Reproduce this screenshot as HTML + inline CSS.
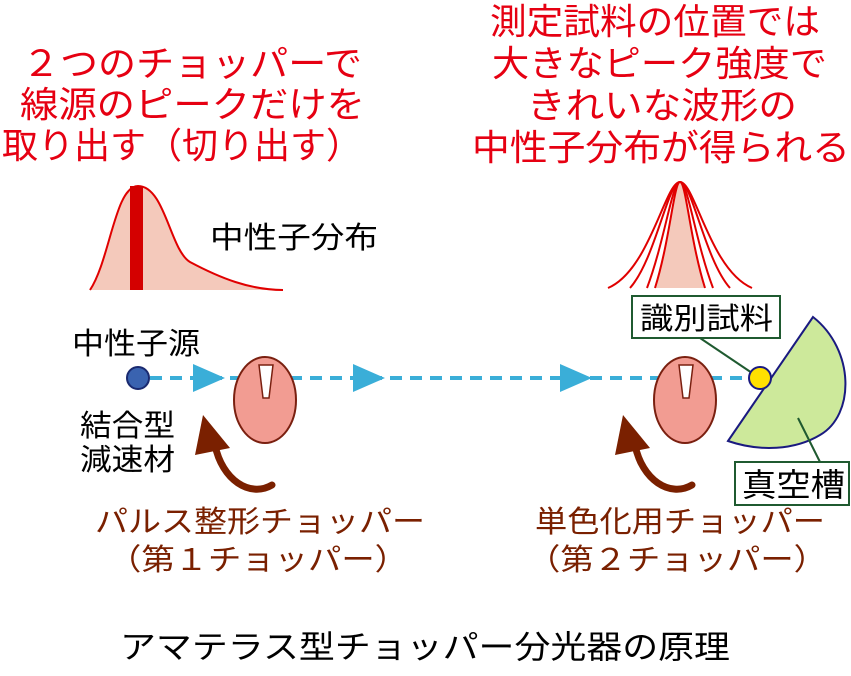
<!DOCTYPE html>
<html><head><meta charset="utf-8"><style>
body{margin:0;background:#fff}
svg text{font-family:"Liberation Sans","Noto Sans CJK JP",sans-serif}
</style></head><body>
<svg width="851" height="671" viewBox="0 0 851 671" xmlns="http://www.w3.org/2000/svg">
<g fill="#e60012" font-size="36">
<text x="22" y="76" textLength="340" lengthAdjust="spacingAndGlyphs">２つのチョッパーで</text>
<text x="20" y="117" textLength="345" lengthAdjust="spacingAndGlyphs">線源のピークだけを</text>
<text x="2" y="158" textLength="360" lengthAdjust="spacingAndGlyphs">取り出す（切り出す）</text>
<text x="490" y="34" textLength="330" lengthAdjust="spacingAndGlyphs">測定試料の位置では</text>
<text x="492" y="76" textLength="335" lengthAdjust="spacingAndGlyphs">大きなピーク強度で</text>
<text x="527" y="118" textLength="270" lengthAdjust="spacingAndGlyphs">きれいな波形の</text>
<text x="472" y="160" textLength="378" lengthAdjust="spacingAndGlyphs">中性子分布が得られる</text>
</g>
<path d="M90,290 C110,260 115,186 138,186 C165,186 170,250 190,262 C220,278 250,290 283,290 Z" fill="#f4c9bb" stroke="none"/>
<path d="M90,290 C110,260 115,186 138,186 C165,186 170,250 190,262 C220,278 250,290 283,290" fill="none" stroke="#e00000" stroke-width="2"/>
<rect x="130" y="186" width="13" height="104" fill="#d40000"/>
<text x="210" y="248" font-size="30" fill="#000" textLength="168" lengthAdjust="spacingAndGlyphs">中性子分布</text>
<path d="M655,288 C670,240 672,182 680,182 C688,182 690,240 705,288 Z" fill="#f4c9bb"/>
<g fill="none" stroke="#e00000" stroke-width="2">
<path d="M608,288 C650,270 665,182 680,182 C695,182 710,270 752,288"/>
<path d="M630,288 C655,260 668,182 680,182 C692,182 705,260 730,288"/>
<path d="M647,288 C665,240 672,182 680,182 C688,182 695,240 713,288"/>
<path d="M655,288 C670,240 674,182 680,182 C686,182 690,240 705,288"/>
</g>
<line x1="150" y1="378" x2="750" y2="378" stroke="#3aaed8" stroke-width="4" stroke-dasharray="12,8"/>
<g fill="#3aaed8">
<polygon points="193,364 225,378 193,392"/>
<polygon points="353,364 385,378 353,392"/>
<polygon points="560,364 592,378 560,392"/>
</g>
<circle cx="138" cy="378" r="11" fill="#3a63b0" stroke="#1a2a70" stroke-width="2"/>
<text x="72" y="354" font-size="30" fill="#000" textLength="128" lengthAdjust="spacingAndGlyphs">中性子源</text>
<text x="80" y="436" font-size="30" fill="#000" textLength="95" lengthAdjust="spacingAndGlyphs">結合型</text>
<text x="80" y="470" font-size="30" fill="#000" textLength="95" lengthAdjust="spacingAndGlyphs">減速材</text>
<g stroke="#7a2010" stroke-width="2">
<ellipse cx="265" cy="400" rx="31" ry="43" fill="#f29c92"/>
<ellipse cx="685" cy="400" rx="31" ry="43" fill="#f29c92"/>
</g>
<g fill="#fff" stroke="#7a2010" stroke-width="1.5">
<polygon points="259,365 273,365 269,398 263,398"/>
<polygon points="679,365 693,365 689,398 683,398"/>
</g>
<g fill="none" stroke="#7a2000" stroke-width="7" stroke-linecap="round">
<path d="M272,485 C250,498 222,480 215,445"/>
<path d="M692,485 C670,498 642,480 635,445"/>
</g>
<g fill="#7a2000">
<polygon points="195,455 203,415 230,448"/>
<polygon points="615,455 623,415 650,448"/>
</g>
<path d="M728,441 L813,317 C855,350 855,415 820,435 C795,450 760,452 728,441 Z" fill="#cde99b" stroke="#1a1a80" stroke-width="2"/>
<line x1="700" y1="338" x2="758" y2="377" stroke="#1f5a30" stroke-width="2"/>
<line x1="798" y1="418" x2="820" y2="462" stroke="#1f5a30" stroke-width="2"/>
<circle cx="760" cy="378" r="11" fill="#ffe000" stroke="#1a1a80" stroke-width="2"/>
<rect x="632" y="296" width="148" height="42" fill="#fff" stroke="#1f5a30" stroke-width="2"/>
<text x="640" y="329" font-size="30" fill="#000" textLength="133" lengthAdjust="spacingAndGlyphs">識別試料</text>
<rect x="735" y="462" width="114" height="43" fill="#fff" stroke="#1f5a30" stroke-width="2"/>
<text x="742" y="496" font-size="32" fill="#000" textLength="103" lengthAdjust="spacingAndGlyphs">真空槽</text>
<g fill="#7a2000" font-size="30">
<text x="95" y="532" textLength="330" lengthAdjust="spacingAndGlyphs">パルス整形チョッパー</text>
<text x="108" y="570" textLength="300" lengthAdjust="spacingAndGlyphs">（第１チョッパー）</text>
<text x="535" y="532" textLength="290" lengthAdjust="spacingAndGlyphs">単色化用チョッパー</text>
<text x="527" y="570" textLength="300" lengthAdjust="spacingAndGlyphs">（第２チョッパー）</text>
</g>
<text x="120" y="658" font-size="32" fill="#000" textLength="610" lengthAdjust="spacingAndGlyphs">アマテラス型チョッパー分光器の原理</text>
</svg>
</body></html>
